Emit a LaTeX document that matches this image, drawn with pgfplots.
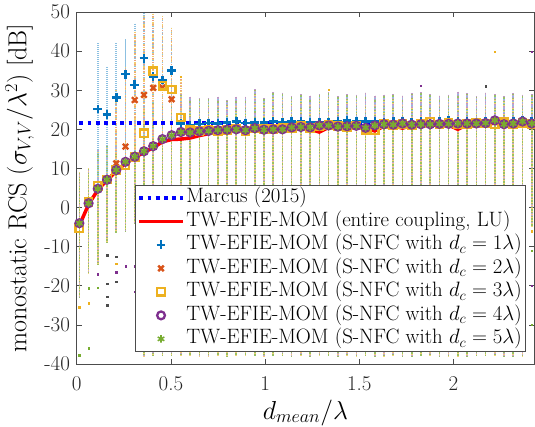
\RequirePackage{fix-cm}
\documentclass[border=0pt]{standalone}
\usepackage{pgfplots}
\usepackage{pgfplotstable}
\pgfplotsset{compat=1.18}
\definecolor{mblue}{rgb}{0,0.447,0.741}
\definecolor{morange}{rgb}{0.85,0.325,0.098}
\definecolor{myellow}{rgb}{0.929,0.694,0.125}
\definecolor{mpurple}{rgb}{0.494,0.184,0.556}
\definecolor{mgreen}{rgb}{0.466,0.674,0.188}
\definecolor{axgray}{rgb}{0.3,0.3,0.3}
\newcommand{\ticksize}{\fontsize{21bp}{24bp}\selectfont}
\newcommand{\legsize}{\fontsize{20.8bp}{24bp}\selectfont}
\newcommand{\labsize}{\fontsize{26bp}{30bp}\selectfont}

\pgfplotstableread{
x red blue orange yellow purple green
0.014 -4.6 -4.0 -4.0 -5.3 -4.0 -4.0
0.063 0.8 1.1 1.1 1.5 1.1 1.1
0.112 4.5 25.2 4.8 5.6 4.8 4.8
0.161 7.0 23.8 7.2 7.2 7.1 7.1
0.210 9.3 28.2 11.3 9.6 9.6 9.6
0.259 11.3 34.1 15.6 10.8 11.7 11.7
0.308 12.8 31.4 27.5 13.0 13.0 13.0
0.357 14.1 38.2 28.8 19.0 14.4 14.4
0.406 15.3 33.5 30.6 34.9 15.7 15.7
0.455 16.8 32.6 30.7 31.1 17.5 17.5
0.504 17.4 35.0 27.7 30.2 18.5 18.5
0.553 17.5 21.5 19.6 23.0 19.3 19.3
0.602 17.8 21.1 19.4 19.8 19.2 19.2
0.651 18.4 21.4 19.5 19.5 19.5 19.5
0.700 18.9 21.6 19.8 19.9 19.6 19.6
0.749 19.3 21.5 19.8 19.6 19.8 19.8
0.798 19.5 21.7 20.0 19.8 19.9 19.9
0.847 19.7 22.0 20.1 20.2 20.0 20.0
0.896 19.6 21.6 19.8 19.6 19.8 19.8
0.945 19.9 21.8 20.3 20.2 20.3 20.3
0.994 19.8 21.7 19.9 20.1 19.9 19.9
1.043 19.9 22.0 20.2 20.0 20.0 20.0
1.092 20.0 21.9 20.0 20.3 20.0 20.0
1.141 20.2 22.0 20.5 20.4 20.5 20.5
1.190 20.3 22.1 20.6 20.8 20.6 20.6
1.239 20.0 21.8 20.5 20.3 20.5 20.5
1.288 19.3 21.7 21.0 20.7 21.0 21.0
1.337 20.5 21.9 21.0 21.1 21.0 21.0
1.386 20.5 22.0 20.7 20.9 20.7 20.7
1.435 20.7 22.3 20.8 20.6 20.8 20.8
1.484 20.7 22.1 20.9 21.0 20.9 20.9
1.533 20.2 22.0 20.4 19.9 20.4 20.4
1.582 19.6 22.0 21.0 19.7 21.0 21.0
1.631 20.8 21.8 21.3 21.4 21.3 21.3
1.680 20.9 22.0 21.2 21.1 21.2 21.2
1.729 20.3 22.1 21.5 21.3 21.5 21.5
1.778 21.0 21.9 21.2 21.0 21.2 21.2
1.827 21.1 22.0 21.3 21.5 21.3 21.3
1.876 21.0 22.1 21.3 22.0 21.3 21.3
1.925 21.2 22.0 21.4 21.2 21.4 21.4
1.974 21.1 22.2 21.4 21.6 21.4 21.4
2.023 20.0 22.0 21.5 21.2 21.5 21.5
2.072 21.2 22.1 21.5 21.4 21.5 21.5
2.121 21.3 21.9 21.5 21.7 21.5 21.5
2.170 21.2 22.0 21.6 21.5 21.6 21.6
2.219 21.6 22.2 22.3 21.2 22.3 22.3
2.268 21.1 22.0 21.3 21.8 21.3 21.3
2.317 21.3 22.1 21.5 21.2 21.5 21.5
2.366 21.5 22.2 22.0 21.7 22.0 22.0
2.415 21.3 22.0 21.5 21.4 21.5 21.5
}\curves

\pgfplotstableread{
x lo hi
0.014 -23 9
0.063 -17 10
0.112 -14.5 15
0.161 -9 16
0.210 -6.5 18
0.259 -6 20
0.308 -4 22
0.357 -38 25
0.406 -38 27
0.455 -38 27
0.504 -38 27
0.553 -38 29
0.602 -38 28.3
0.651 -38 28
0.700 -38 28
0.749 -38 28.3
0.798 -38 27.4
0.847 -38 28.3
0.896 -38 28.3
0.945 -38 30.2
0.994 -38 28
1.043 -38 29.5
1.092 -38 29.3
1.141 -38 28.5
1.190 -38 29
1.239 -38 28.6
1.288 -38 29
1.337 -38 29.5
1.386 -38 28.5
1.435 -38 29
1.484 -38 28.8
1.533 -38 29.4
1.582 -38 28.6
1.631 -38 28.8
1.680 -38 29
1.729 -38 28.6
1.778 -38 29.2
1.827 -38 29.5
1.876 -38 29
1.925 -38 28.6
1.974 -38 28.8
2.023 -38 29.6
2.072 -38 29.2
2.121 -38 28.4
2.170 -38 29.4
2.219 -38 29
2.268 -38 28.5
2.317 -38 29.2
2.366 -38 28.8
2.415 -5 29
}\colmain

\pgfplotstableread{
x lo hi
0.112 5 42
0.161 7 36
0.210 10 42
0.259 12 43
0.308 13 47
0.357 14 49.7
0.406 16 49.5
0.455 17 48
0.504 18 46
}\colblue

\pgfplotstableread{
x lo hi
0.210 11 30
0.259 13 36
0.308 15 45
0.357 15 49
0.406 17 49.5
0.455 18 49
0.504 19 46
0.553 20 33.5
}\colorange

\pgfplotsset{
  colbar/.style={forget plot, draw=none, mark=none,
    error bars/.cd, y dir=minus, y explicit, error mark=none,
    error bar style={#1}},
  myleg/.style={legend image code/.code={\draw[mark repeat=2,mark phase=2,##1] plot coordinates {(0bp,0bp) (21.7bp,0bp) (43.4bp,0bp)};}},
}

\begin{document}
\begin{tikzpicture}
\begin{axis}[
  at={(0,0)}, anchor=south west,
  scale only axis, width=457.3bp, height=352bp,
  xmin=0, xmax=2.427, ymin=-40, ymax=50,
  xtick={0,0.5,1,1.5,2}, xticklabels={0,0.5,1,1.5,2},
  ytick={-40,-30,...,50}, yticklabels={-40,-30,-20,-10,0,10,20,30,40,50},
  tick align=inside, major tick length=5bp,
  axis line style={draw=axgray, line width=0.7bp},
  every tick/.style={draw=axgray, line width=0.7bp},
  tick label style={font=\ticksize, color=black!85},
  yticklabel style={inner xsep=2bp, xshift=-4.5bp},
  xticklabel style={anchor=base, yshift=-26bp},
  label style={font=\labsize},
  xlabel={$d_{mean}/\lambda$},
  xlabel style={at={(axis description cs:0.5,0)}, anchor=base, yshift=-55bp},
  ylabel={monostatic RCS ($\sigma_{V,V}/\lambda^2$) [dB]},
  ylabel style={at={(axis description cs:-0.1098,0.5)}, anchor=base},
  legend style={at={(0.9825,0.034)}, anchor=south east, draw=axgray, line width=0.7bp,
    fill=white, font=\legsize, inner xsep=2bp, inner ysep=2.3bp, row sep=2.5bp,
    nodes={inner xsep=2bp, inner ysep=0bp, text height=15.5bp, text depth=5.5bp}},
  legend cell align=left,
]
% sample columns
\addplot[colbar={draw=mpurple!45, line width=1.6bp}] table[x=x, y=hi, y error minus expr={\thisrow{hi}-\thisrow{lo}}] {\colmain};
\addplot[colbar={draw=mgreen!75, line width=1.6bp, dash pattern=on 1.6bp off 0.7bp}] table[x=x, y=hi, y error minus expr={\thisrow{hi}-\thisrow{lo}}] {\colmain};
\addplot[colbar={draw=myellow!60, line width=1.6bp, dash pattern=on 0.8bp off 2.2bp}] table[x=x, y=hi, y error minus expr={\thisrow{hi}-\thisrow{lo}}] {\colmain};
\addplot[colbar={draw=mblue!45, line width=1.6bp, dash pattern=on 1.2bp off 0.8bp}] table[x=x, y=hi, y error minus expr={\thisrow{hi}-\thisrow{lo}}] {\colblue};
\addplot[colbar={draw=myellow!65, line width=1.6bp, dash pattern=on 1.2bp off 1.6bp}] table[x=x, y=hi, y error minus expr={\thisrow{hi}-\thisrow{lo}}] {\colorange};
\addplot[colbar={draw=morange!55, line width=1.6bp, dash pattern=on 0.8bp off 3bp, dash phase=1.5bp}] table[x=x, y=hi, y error minus expr={\thisrow{hi}-\thisrow{lo}}] {\colorange};
\addplot[restrict x to domain=0.53:2.5, colbar={draw=mpurple!50, line width=1.6bp, dash pattern=on 0.8bp off 2.5bp}] table[x=x, y=hi, y error minus expr={\thisrow{hi}-21}] {\colmain};
\addplot[restrict x to domain=0.53:2.5, colbar={draw=mblue!45, line width=1.6bp, dash pattern=on 0.6bp off 4bp, dash phase=2bp}] table[x=x, y=hi, y error minus expr={\thisrow{hi}-22}] {\colmain};
% outlier samples
\addplot[forget plot, only marks, mark=square*, mark size=0.7bp, color=mgreen] coordinates {(0.014,-37.7) (0.063,-36) (0.112,-20.5) (0.063,-20.6) (2.415,-11) (2.415,-30)};
\addplot[forget plot, only marks, mark=square*, mark size=0.7bp, color=myellow] coordinates {(0.014,-25.5) (0.063,-24.5) (0.210,-14.3) (2.415,-6) (1.337,30.2) (2.219,39.8) (0.553,33.5)};
\addplot[forget plot, only marks, mark=square*, mark size=0.7bp, color=black!70] coordinates {(0.161,-12.2) (0.161,-19.4) (0.161,-22.8) (0.161,-25) (0.210,-12.6) (0.210,-19) (2.170,31)};
\addplot[forget plot, only marks, mark=square*, mark size=0.7bp, color=mpurple] coordinates {(0.112,-17) (0.308,-15) (0.308,-21.5) (0.259,-15) (0.210,-16.5) (2.415,-20) (1.827,31.2) (2.415,39.8)};
% reference and results
\addplot[myleg, draw=blue, line width=3.5bp, dash pattern=on 3.8bp off 4.4bp] coordinates {(0.014,21.6) (2.415,21.6)};
\addlegendentry{Marcus (2015)}
\addplot[myleg, draw=red, line width=3.5bp] table[x=x, y=red] {\curves};
\addlegendentry{TW-EFIE-MOM (entire coupling, LU)}
\addplot[myleg, only marks, mark=+, mark size=4.4bp, color=mblue, mark options={line width=2.5bp}] table[x=x, y=blue] {\curves};
\addlegendentry{TW-EFIE-MOM (S-NFC with $d_c=1\lambda$)}
\addplot[myleg, only marks, mark=x, mark size=3.9bp, color=morange, mark options={line width=2.4bp}] table[x=x, y=orange] {\curves};
\addlegendentry{TW-EFIE-MOM (S-NFC with $d_c=2\lambda$)}
\addplot[myleg, only marks, mark=square, mark size=3.7bp, color=myellow, mark options={line width=2.3bp}] table[x=x, y=yellow] {\curves};
\addlegendentry{TW-EFIE-MOM (S-NFC with $d_c=3\lambda$)}
\addplot[myleg, only marks, mark=o, mark size=3.9bp, color=mpurple, mark options={line width=2.3bp}] table[x=x, y=purple] {\curves};
\addlegendentry{TW-EFIE-MOM (S-NFC with $d_c=4\lambda$)}
\addplot[myleg, only marks, mark=asterisk, mark size=3.8bp, color=mgreen, mark options={line width=1.6bp}] table[x=x, y=green] {\curves};
\addlegendentry{TW-EFIE-MOM (S-NFC with $d_c=5\lambda$)}
\end{axis}
\pgfresetboundingbox
\path[use as bounding box] (-76.7bp,-63bp) rectangle (458.3bp,364bp);
\end{tikzpicture}
\end{document}
